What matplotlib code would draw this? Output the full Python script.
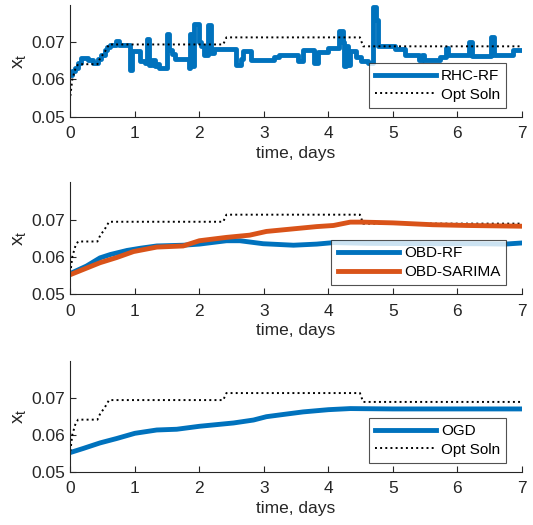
import numpy as np
import matplotlib.pyplot as plt

plt.rcParams['font.family'] = ['Liberation Sans', 'DejaVu Sans']
plt.rcParams['mathtext.default'] = 'regular'

BLUE = '#0072BD'
ORANGE = '#D95319'

# optimal solution (shared by all panels)
t_opt = [0, 0.03, 0.08, 0.12, 0.42, 0.47, 0.52, 0.60, 2.37, 2.42, 4.49, 4.54, 7.0]
x_opt = [0.0556, 0.0600, 0.0630, 0.0641, 0.0641, 0.0660, 0.0670, 0.0694,
         0.0694, 0.0713, 0.0713, 0.0689, 0.0689]

# RHC-RF (step-like)
t_rhc = [0.00, 0.03, 0.07, 0.12, 0.16, 0.27, 0.35, 0.43, 0.48, 0.53, 0.57, 0.62,
         0.70, 0.75, 0.93, 0.96, 1.08, 1.15, 1.19, 1.22, 1.26, 1.31, 1.35, 1.38,
         1.50, 1.53, 1.57, 1.62, 1.84, 1.86, 1.88, 1.91, 1.99, 2.02, 2.07, 2.14,
         2.18, 2.22, 2.57, 2.65, 2.67, 2.80, 3.16, 3.24, 3.53, 3.60, 3.78, 3.84,
         3.99, 4.17, 4.22, 4.25, 4.28, 4.31, 4.33, 4.43, 4.51, 4.61, 4.69, 4.74,
         4.77, 5.04, 5.19, 5.40, 5.45, 5.49, 5.73, 5.82, 5.86, 6.18, 6.22, 6.52,
         6.57, 6.86, 7.00]
x_rhc = [0.0612, 0.0622, 0.0632, 0.0644, 0.0658, 0.0652, 0.0645, 0.0655, 0.0665,
         0.0678, 0.0688, 0.0693, 0.0702, 0.0692, 0.0625, 0.0676, 0.0650, 0.0645,
         0.0708, 0.0640, 0.0652, 0.0636, 0.0642, 0.0630, 0.0722, 0.0680, 0.0668,
         0.0655, 0.0632, 0.0722, 0.0635, 0.0748, 0.0700, 0.0690, 0.0665, 0.0745,
         0.0672, 0.0683, 0.0640, 0.0655, 0.0676, 0.0653, 0.0660, 0.0667, 0.0649,
         0.0680, 0.0645, 0.0673, 0.0685, 0.0730, 0.0700, 0.0635, 0.0690, 0.0640,
         0.0676, 0.0660, 0.0650, 0.0644, 0.0795, 0.0760, 0.0689, 0.0682, 0.0667,
         0.0653, 0.0665, 0.0653, 0.0660, 0.0685, 0.0665, 0.0700, 0.0662, 0.0714,
         0.0667, 0.0678, 0.0678]

# OBD-RF
t_obd_rf = [0, 0.25, 0.46, 0.62, 0.88, 1.09, 1.34, 1.75, 2.0, 2.42, 2.63, 2.99,
            3.46, 3.82, 4.08, 4.6, 5.5, 6.3, 6.74, 7.0]
x_obd_rf = [0.0555, 0.0575, 0.0597, 0.0606, 0.0617, 0.0623, 0.0629, 0.0631,
            0.0634, 0.0643, 0.0643, 0.0635, 0.0631, 0.0634, 0.0638, 0.0636,
            0.0635, 0.0635, 0.0634, 0.0637]

# OBD-SARIMA
t_obd_sa = [0, 0.46, 0.72, 0.98, 1.34, 1.75, 2.0, 2.42, 2.78, 3.04, 3.46, 3.82,
            4.08, 4.34, 4.54, 5.0, 5.62, 6.15, 7.0]
x_obd_sa = [0.0552, 0.0584, 0.0598, 0.0614, 0.0626, 0.0629, 0.0643, 0.0652,
            0.0658, 0.0668, 0.0675, 0.0681, 0.0684, 0.0693, 0.0693, 0.0691,
            0.0686, 0.0684, 0.0682]

# OGD
t_ogd = [0, 0.2, 0.46, 0.72, 1.0, 1.34, 1.65, 2.0, 2.53, 2.84, 3.04, 3.3, 3.61,
         4.0, 4.34, 5.0, 6.0, 7.0]
x_ogd = [0.0552, 0.0563, 0.0578, 0.0590, 0.0604, 0.0613, 0.0615, 0.0623,
         0.0632, 0.0640, 0.0649, 0.0655, 0.0662, 0.0668, 0.0671, 0.0670,
         0.0670, 0.0670]

fig = plt.figure(figsize=(5.33, 5.25), dpi=100)
boxes = [[0.132, 0.7777, 0.847, 0.2128],
         [0.132, 0.4400, 0.847, 0.2128],
         [0.132, 0.1015, 0.847, 0.2110]]
axes = [fig.add_axes(b) for b in boxes]

ax = axes[0]
ax.plot(t_rhc, x_rhc, color=BLUE, lw=3.5, drawstyle='steps-post', label='RHC-RF')
ax.plot(t_opt, x_opt, color='black', lw=1.4, ls=':', label='Opt Soln')

ax = axes[1]
ax.plot(t_opt, x_opt, color='black', lw=1.4, ls=':')
ax.plot(t_obd_rf, x_obd_rf, color=BLUE, lw=3.5, label='OBD-RF')
ax.plot(t_obd_sa, x_obd_sa, color=ORANGE, lw=3.5, label='OBD-SARIMA')

ax = axes[2]
ax.plot(t_ogd, x_ogd, color=BLUE, lw=3.5, label='OGD')
ax.plot(t_opt, x_opt, color='black', lw=1.4, ls=':', label='Opt Soln')

for ax in axes:
    ax.set_xlim(0, 7)
    ax.set_ylim(0.05, 0.08)
    ax.set_xticks(range(8))
    ax.set_yticks([0.05, 0.06, 0.07])
    ax.set_yticklabels(['0.05', '0.06', '0.07'])
    for s in ['top', 'right']:
        ax.spines[s].set_visible(False)
    for s in ['left', 'bottom']:
        ax.spines[s].set_color('#262626')
        ax.spines[s].set_linewidth(0.8)
    ax.tick_params(direction='in', length=4, width=0.8, colors='#262626',
                   labelsize=12.5)
    ax.tick_params(axis='x', pad=7)
    ax.tick_params(axis='y', pad=4)
    ax.set_xlabel('time, days', fontsize=12.5, color='#262626', labelpad=3)
    ax.set_ylabel('$x_t$', fontsize=14, color='#262626', labelpad=2)
    leg = ax.legend(loc='lower right', bbox_to_anchor=(0.966, 0.08),
                    fontsize=11, frameon=True, fancybox=False,
                    borderaxespad=0, handlelength=4.0, borderpad=0.4,
                    labelspacing=0.3, handletextpad=0.35)
    leg.get_frame().set_edgecolor('#262626')
    leg.get_frame().set_linewidth(0.8)

fig.savefig('out.png', dpi=100)
